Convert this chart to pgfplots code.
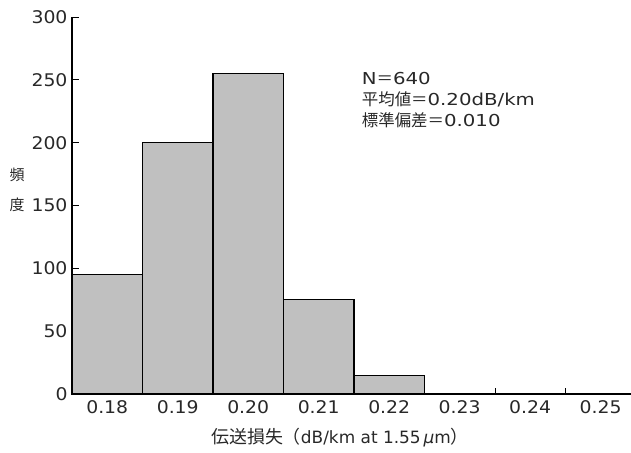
\documentclass[border=0pt]{standalone}
\usepackage{fontspec}
\setmainfont{DejaVu Sans}
\newfontfamily\jp{Noto Sans CJK JP}
\newfontfamily\widefont[FakeStretch=1.2]{DejaVu Sans}
\newfontfamily\tickfont[FakeStretch=1.08]{DejaVu Sans}
\usepackage{pgfplots}
\pgfplotsset{compat=1.18}
\definecolor{barfill}{RGB}{192,192,192}
\definecolor{txt}{RGB}{40,40,40}
\begin{document}
\begin{tikzpicture}
\begin{axis}[
  at={(0,0)}, anchor=south west,
  scale only axis, width=559bp, height=377bp,
  xmin=0.175, xmax=0.2543, ymin=0, ymax=300,
  axis x line*=bottom, axis y line*=left,
  axis line style={line width=1.4pt, -},
  xtick={0.18,0.19,0.20,0.21,0.22,0.23,0.24,0.25},
  xticklabels={0.18,0.19,0.20,0.21,0.22,0.23,0.24,0.25},
  major x tick style={draw=none},
  minor xtick={0.185,0.195,0.205,0.215,0.225,0.235,0.245},
  minor tick length=6bp,
  minor x tick style={line width=0.8pt, black},
  ytick={0,50,100,150,200,250,300},
  major tick length=7bp,
  major y tick style={line width=0.8pt, black},
  tick align=inside,
  ticklabel style={font=\tickfont\fontsize{17.5}{20}\selectfont, text=txt},
  /pgf/number format/assume math mode=true,
  xticklabel style={yshift=-3bp},
  yticklabel style={xshift=-1bp},
  clip=false,
]
\addplot[ybar, bar width=0.01, bar shift=0pt, fill=barfill, draw=black, line width=1.1pt]
  coordinates {(0.18,95) (0.19,200) (0.20,255) (0.21,75) (0.22,15)};
\node[anchor=north west, align=left, text=txt, font=\widefont\fontsize{16.5}{21}\selectfont, inner sep=0pt]
  at (axis cs:0.2161,256) {N{\jp＝}640\\{\jp 平均値＝}0.20dB/km\\{\jp 標準偏差＝}0.010};
\end{axis}
\node[text=txt, font=\jp\fontsize{15}{30}\selectfont, align=center, inner sep=0pt] at (-55bp,204bp) {頻\\度};
\node[text=txt, font=\fontsize{17}{20}\selectfont, inner sep=0pt] at (268bp,-44bp) {{\jp\fontsize{18}{20}\selectfont 伝送損失（}dB/km at 1.55\,{\itshape μ}m{\jp\fontsize{18}{20}\selectfont ）}};
\pgfresetboundingbox
\path (-72bp,-59bp) rectangle (559bp,394bp);
\end{tikzpicture}
\end{document}
